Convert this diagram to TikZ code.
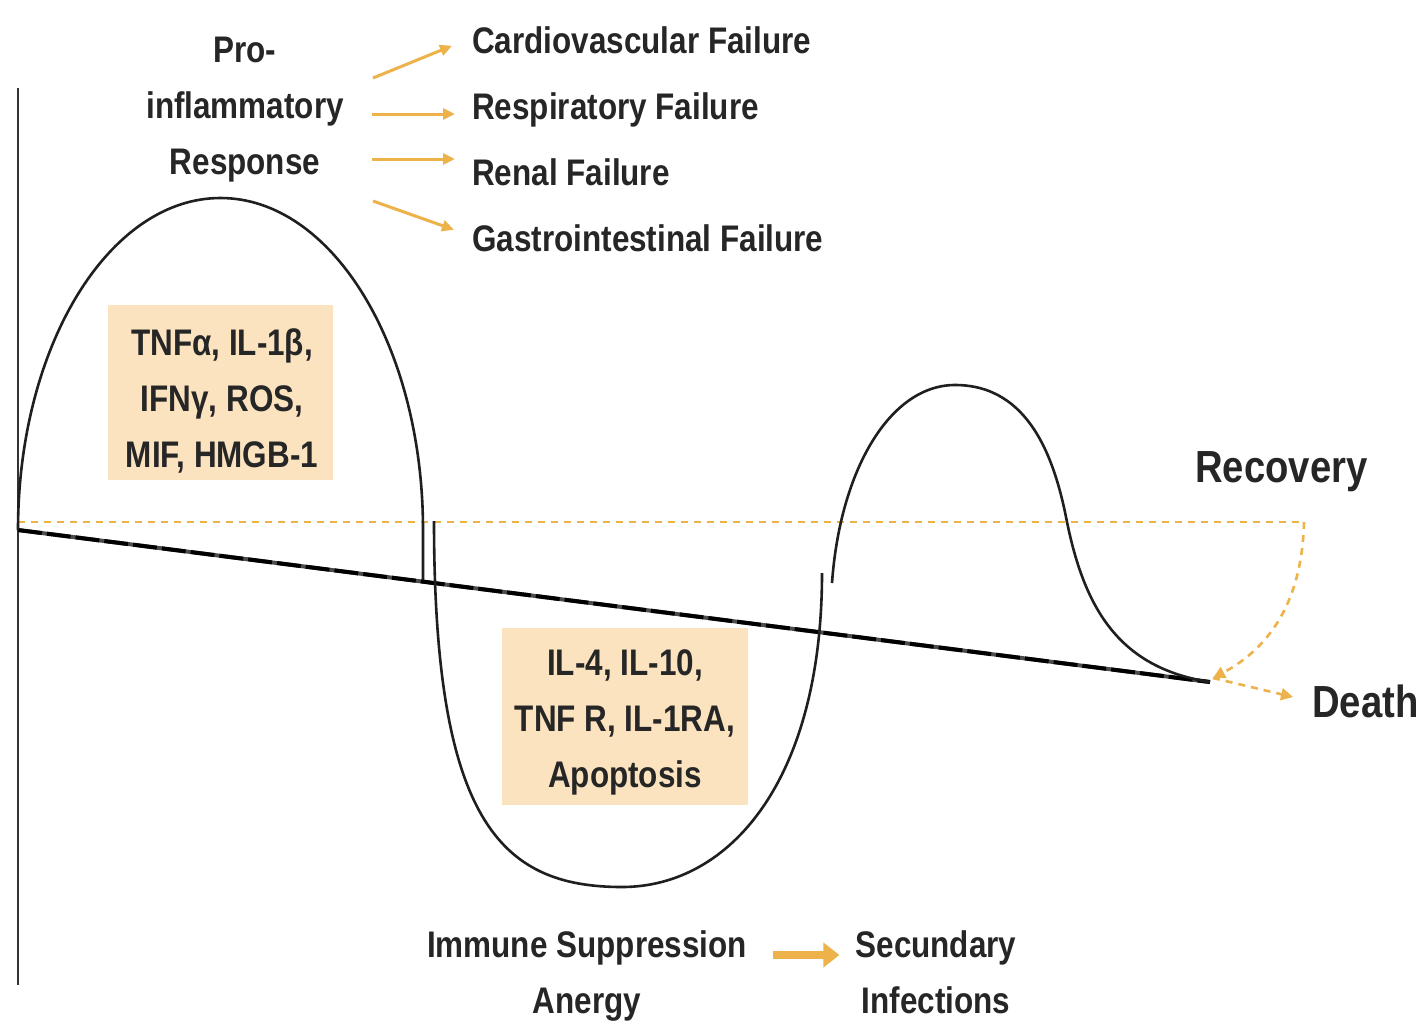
\documentclass[tikz,border=0pt]{standalone}
\usepackage{fontspec}
\usetikzlibrary{arrows.meta}
\newfontfamily\lab{Liberation Sans}[FakeStretch=0.85]
\definecolor{gold}{HTML}{EDB24A}
\definecolor{boxfill}{HTML}{FBE3C0}
\definecolor{txt}{HTML}{262626}
\begin{document}
\begin{tikzpicture}[x=1pt,y=-1pt,
  lbl/.style={font=\lab\bfseries\fontsize{37}{56}\selectfont, text=txt, inner sep=0pt, align=center},
  big/.style={font=\lab\bfseries\fontsize{45}{54}\selectfont, text=txt, inner sep=0pt},
  curve/.style={line width=2.6pt, draw=black!88},
  oarr/.style={draw=gold, line width=3pt, -{Triangle[length=12pt,width=11pt]}},
  dotl/.style={draw=gold, line width=2.6pt, dash pattern=on 7pt off 6pt},
  cbox/.style={fill=boxfill, inner sep=0pt}]
\useasboundingbox (0,0) rectangle (1423,1026);
\fill[white] (0,0) rectangle (1423,1026);

% axis
\draw[line width=2.4pt, black!80] (18,88) -- (18,985);

% reference dashed line
\coordinate (dl) at (18,522);
\coordinate (dr) at (1304,522);
\draw[dotl] (dl) -- (dr);

% baseline (declining)
\coordinate (b0) at (18,530);
\coordinate (b1) at (1210,682);
\draw[line width=4pt, black!70] (b0) -- (b1);
\draw[line width=4pt, black, dash pattern=on 24pt off 5pt] (b0) -- (b1);

% curves
\draw[curve] (18,530) arc[start angle=180, end angle=360, x radius=202.5, y radius=332] -- (423,580);
\draw[curve] (434,521) .. controls (434,820) and (500,887) .. (622,887)
  .. controls (730,887) and (822,780) .. (822,573);
\draw[curve] (832,583) .. controls (840,470) and (890,385) .. (955,385)
  .. controls (1030,385) and (1055,460) .. (1067,522)
  .. controls (1085,610) and (1120,668) .. (1210,682);

% recovery / death arrows
\coordinate (end) at (1213,678);
\coordinate (dtip) at (1293,697);
\draw[dotl, -{Triangle[length=12pt,width=12pt]}] (dr) .. controls (1302,610) and (1262,652) .. (end);
\draw[dotl, -{Triangle[length=12pt,width=12pt]}] (end) -- (dtip);

% top labels
\node[lbl, anchor=base] (pro) at (245,174) {Pro-\\inflammatory\\Response};
\node[lbl, anchor=base west] (cv) at (472,53) {Cardiovascular Failure};
\node[lbl, anchor=base west] (rs) at (472,119) {Respiratory Failure};
\node[lbl, anchor=base west] (rn) at (472,185) {Renal Failure};
\node[lbl, anchor=base west] (gi) at (472,251) {Gastrointestinal Failure};
\coordinate (s1) at (373,78);
\coordinate (s2) at (372,114);
\coordinate (s3) at (372,159);
\coordinate (s4) at (373,201);
\draw[oarr] (s1) -- ([xshift=-20pt,yshift=-6pt]cv.west);
\draw[oarr] (s2) -- ([xshift=-17pt]s2 -| rs.west);
\draw[oarr] (s3) -- ([xshift=-17pt]s3 -| rn.west);
\draw[oarr] (s4) -- ([xshift=-18pt,yshift=8pt]gi.west);

% boxes
\node[cbox, minimum width=225pt, minimum height=175pt] (box1) at (220.5,392.5) {};
\node[lbl, anchor=base] (t1) at (222,467) {TNFα, IL-1β,\\IFNγ, ROS,\\MIF, HMGB-1};
\node[cbox, minimum width=246pt, minimum height=177pt] (box2) at (625,716.5) {};
\node[lbl, anchor=base] (t2) at (625,787) {IL-4, IL-10,\\TNF R, IL-1RA,\\Apoptosis};

% outcome labels
\node[big, anchor=base west] (rec) at (1195,482) {Recovery};
\node[big, anchor=base west] (death) at (1312,717) {Death};

% bottom
\node[lbl, anchor=base] (imm) at (587,1013) {Immune Suppression\\Anergy};
\node[lbl, anchor=base] (sec) at (936,1013) {Secundary\\Infections};
\draw[draw=gold, line width=8pt, -{Triangle[length=16pt,width=24pt]}] ([xshift=26pt]imm.east |- 0,955) -- ([xshift=-16pt]sec.west |- 0,955);
\end{tikzpicture}
\end{document}
